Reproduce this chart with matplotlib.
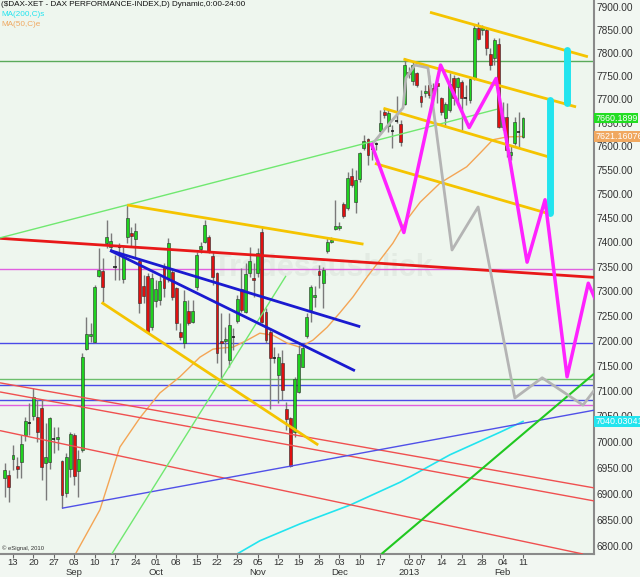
import matplotlib
matplotlib.use("Agg")
import matplotlib.pyplot as plt
from matplotlib.ticker import FixedLocator, NullLocator, FuncFormatter

plt.rcParams['font.family'] = ['Liberation Sans', 'DejaVu Sans']

# bar index 0 = 13 Aug 2012 (trading days)
bar_idx = list(range(-2, 126))
opens = [6930, 6936, 6967, 6953, 6961, 7014, 7038, 7051, 7049, 7066,
         6959, 6961, 7004, 7006, 6963, 6901, 6947, 7014, 6944, 6984,
         7183, 7209, 7197, 7331, 7341, 7398, 7390, 7350, 7388, 7325,
         7411, 7419, 7407, 7361, 7310, 7331, 7227, 7280, 7282, 7349,
         7327, 7339, 7306, 7217, 7195, 7260, 7238, 7308, 7386, 7400,
         7411, 7372, 7337, 7199, 7199, 7161, 7205, 7240, 7304, 7258,
         7337, 7327, 7337, 7421, 7258, 7217, 7167, 7132, 7155, 7064,
         7047, 7019, 7098, 7148, 7209, 7262, 7288, 7341, 7317, 7382,
         7400, 7427, 7429, 7479, 7471, 7538, 7483, 7531, 7597, 7616,
         7597, 7603, 7633, 7673, 7643, 7635, 7652, 7648, 7690, 7759,
         7740, 7757, 7707, 7714, 7731, 7725, 7735, 7703, 7660, 7677,
         7746, 7727, 7738, 7703, 7699, 7746, 7855, 7850, 7850, 7798,
         7789, 7820, 7641, 7662, 7582, 7607, 7631, 7620]
highs = [6959, 6946, 6994, 6971, 7014, 7049, 7076, 7106, 7082, 7084,
         7037, 7049, 7029, 7029, 6965, 6978, 7019, 7017, 6984, 7175,
         7248, 7235, 7312, 7388, 7368, 7446, 7419, 7374, 7398, 7390,
         7477, 7431, 7440, 7368, 7333, 7337, 7337, 7323, 7331, 7357,
         7409, 7343, 7308, 7236, 7302, 7282, 7282, 7380, 7400, 7446,
         7415, 7380, 7339, 7256, 7227, 7256, 7225, 7292, 7347, 7357,
         7390, 7357, 7388, 7434, 7266, 7225, 7187, 7175, 7181, 7078,
         7049, 7128, 7191, 7195, 7256, 7312, 7310, 7353, 7349, 7411,
         7411, 7488, 7442, 7483, 7546, 7555, 7550, 7588, 7624, 7618,
         7607, 7609, 7677, 7682, 7677, 7645, 7707, 7656, 7789, 7770,
         7781, 7759, 7720, 7731, 7753, 7735, 7748, 7705, 7695, 7757,
         7753, 7748, 7742, 7731, 7748, 7861, 7868, 7861, 7857, 7811,
         7833, 7833, 7695, 7692, 7603, 7662, 7673, 7662]
lows = [6893, 6884, 6946, 6930, 6930, 7002, 7014, 7043, 7000, 6926,
        6888, 6947, 6978, 6984, 6872, 6893, 6932, 6917, 6893, 6980,
        7181, 7197, 7195, 7329, 7278, 7388, 7384, 7323, 7323, 7317,
        7398, 7390, 7370, 7256, 7276, 7215, 7221, 7268, 7272, 7288,
        7319, 7282, 7221, 7201, 7185, 7232, 7236, 7302, 7378, 7398,
        7378, 7312, 7155, 7122, 7175, 7148, 7181, 7236, 7258, 7256,
        7329, 7288, 7329, 7236, 7195, 7064, 7155, 7076, 7082, 7023,
        6951, 7010, 7096, 7148, 7205, 7238, 7268, 7306, 7266, 7378,
        7398, 7425, 7425, 7450, 7467, 7515, 7460, 7525, 7592, 7561,
        7571, 7592, 7628, 7660, 7631, 7597, 7650, 7601, 7688, 7746,
        7731, 7727, 7684, 7705, 7703, 7688, 7692, 7667, 7641, 7673,
        7688, 7695, 7635, 7688, 7692, 7742, 7828, 7839, 7796, 7763,
        7774, 7639, 7635, 7578, 7571, 7603, 7597, 7618]
closes = [6946, 6913, 6975, 6947, 6996, 7041, 7036, 7088, 7019, 6951,
          6971, 7047, 7005, 7010, 6897, 6971, 7015, 6934, 6967, 7167,
          7213, 7213, 7308, 7343, 7308, 7411, 7402, 7349, 7390, 7370,
          7450, 7413, 7423, 7276, 7290, 7217, 7327, 7304, 7321, 7306,
          7398, 7288, 7236, 7207, 7280, 7236, 7260, 7374, 7392, 7436,
          7380, 7329, 7175, 7195, 7203, 7231, 7207, 7284, 7262, 7335,
          7361, 7323, 7378, 7238, 7201, 7165, 7165, 7167, 7102, 7045,
          6953, 7124, 7173, 7185, 7248, 7308, 7292, 7333, 7343, 7400,
          7404, 7434, 7433, 7454, 7534, 7519, 7529, 7586, 7612, 7582,
          7595, 7605, 7650, 7667, 7671, 7633, 7654, 7609, 7774, 7755,
          7774, 7731, 7695, 7718, 7710, 7714, 7729, 7673, 7690, 7733,
          7703, 7746, 7703, 7704, 7744, 7855, 7831, 7855, 7811, 7774,
          7828, 7641, 7662, 7592, 7588, 7652, 7630, 7660]

# moving averages, read at sparse bar positions
ma50_idx = [15.3, 21.3, 26.2, 31.1, 36.0, 40.9, 45.8, 49.0, 50.7, 53.9, 57.4, 60.5,
            63.7, 67.2, 70.3, 73.5, 77.0, 80.1, 83.3, 86.8, 90.0, 93.1, 96.5, 99.8,
            104.7, 111.2, 114.5, 117.6, 121.0, 125.0]
ma50_val = [6785, 6869, 6990, 7047, 7096, 7128, 7167, 7183, 7185, 7187, 7201, 7215,
            7211, 7195, 7187, 7201, 7227, 7256, 7288, 7329, 7364, 7398, 7446, 7483,
            7523, 7557, 7586, 7614, 7620, 7621]
ma200_idx = [54.9, 60.5, 70.3, 82.6, 94.9, 107.1, 119.4, 125.0]
ma200_val = [6785, 6810, 6842, 6878, 6922, 6975, 7019, 7040]

# horizontal support / resistance levels
h_levels = [7783, 7345, 7195, 7123, 7111, 7082, 7072]
h_colors = ['#5aaa5a', '#e060e0', '#4a4ae8', '#6cbf6c', '#4a4ae8', '#4a4ae8', '#e060e0']

# trend lines: (x0, p0, x1, p1, colour, width)
trend_lines = [
    (-3.19, 7408, 142.4, 7328, '#e81818', 2.0),
    (-3.19, 7116, 142.4, 6911, '#f05050', 1.0),
    (-3.19, 7098, 142.4, 6886, '#f05050', 1.0),
    (-3.19, 7022, 139.7, 6785, '#f05050', 1.0),
    (12.0, 6872, 142.4, 7062, '#5050e8', 1.0),
    (-3.19, 7409, 118.6, 7679, '#70e870', 1.0),
    (24.2, 6785, 66.9, 7331, '#70e870', 1.0),
    (90.3, 6785, 142.4, 7134, '#20c820', 1.5),
    (28.0, 7477, 85.9, 7396, '#f5c400', 2.0),
    (21.7, 7277, 74.8, 6994, '#f5c400', 2.0),
    (102.2, 7889, 140.9, 7792, '#f5c400', 2.0),
    (95.7, 7787, 138.0, 7684, '#f5c400', 2.0),
    (90.8, 7681, 132.4, 7575, '#f5c400', 2.0),
    (88.7, 7564, 130.9, 7460, '#f5c400', 2.0),
    (23.8, 7383, 85.1, 7228, '#1a1ad0', 2.0),
    (23.8, 7383, 83.8, 7140, '#1a1ad0', 2.0),
]

# projected paths
mag_idx = [87.9, 95.8, 104.8, 111.8, 118.4, 126.0, 130.4, 135.8, 141.0, 142.9]
mag_val = [7604, 7420, 7774, 7640, 7745, 7359, 7488, 7128, 7316, 7280]
grey_idx = [87.9, 91.9, 95.6, 96.3, 98.5, 101.7, 107.6, 114.0, 123.0, 129.7, 139.7, 142.9]
grey_val = [7603, 7645, 7682, 7746, 7774, 7768, 7384, 7473, 7086, 7126, 7072, 7106]

# cyan target bars: (x, low, high)
targets = [(131.6, 7461, 7699), (135.7, 7692, 7807)]

tick_idx = [0, 5, 10, 15, 20, 25, 30, 35, 40, 45, 50, 55, 60, 65, 70, 75, 80, 85, 90,
            97, 100, 105, 110, 115, 120, 125]
tick_lbl = ['13', '20', '27', '03', '10', '17', '24', '01', '08', '15', '22', '29', '05',
            '12', '19', '26', '03', '10', '17', '02', '07', '14', '21', '28', '04', '11']
month_idx = [15, 35, 60, 80, 97, 120]
month_lbl = ['Sep', 'Oct', 'Nov', 'Dec', '2013', 'Feb']

BG = '#eef6ee'
fig = plt.figure(figsize=(6.4, 5.77), dpi=100, facecolor='#f2f7f2')
ax = fig.add_axes([0, 23 / 577, 594 / 640, 554 / 577])
ax.set_facecolor(BG)
ax.set_yscale('log')
ax.set_xlim(-3.19, 142.4)
ax.set_ylim(6785, 7916)

# watermark
ax.text(76, 7347, 'Tradesausblick', fontsize=22, fontweight='bold', color='#e3ebe3',
        ha='center', va='center', zorder=1)

for lvl, c in zip(h_levels, h_colors):
    ax.axhline(lvl, color=c, lw=1, zorder=2)

ax.plot(ma200_idx, ma200_val, color='#22e4ee', lw=1.2, zorder=2.5)
ax.plot(ma50_idx, ma50_val, color='#f4a555', lw=1.0, zorder=2.5)

# candles
for x, o, h, l, c in zip(bar_idx, opens, highs, lows, closes):
    ax.vlines(x, l, h, color='#7a7a7a', lw=1, zorder=3)
    if abs(c - o) < 3:
        ax.hlines(c, x - 0.38, x + 0.38, color='#111111', lw=1.1, zorder=4)
        continue
    col = '#1fd21f' if c > o else '#e01010'
    ax.bar(x, abs(c - o), bottom=min(o, c), width=0.72, color=col,
           edgecolor='#2a2a2a', linewidth=0.4, zorder=4)

for x0, p0, x1, p1, c, w in trend_lines:
    ax.plot([x0, x1], [p0, p1], color=c, lw=w, zorder=5, solid_capstyle='butt')

ax.plot(grey_idx, grey_val, color='#b4b4b4', lw=2, zorder=5)
ax.plot(mag_idx, mag_val, color='#ff22ff', lw=2.5, zorder=6)
for x, lo, hi in targets:
    ax.plot([x, x], [lo, hi], color='#22e4ee', lw=5, solid_capstyle='round', zorder=5.5)

# axes styling
for s in ('top', 'left'):
    ax.spines[s].set_visible(False)
for s in ('right', 'bottom'):
    ax.spines[s].set_color('#8a8a8a')
    ax.spines[s].set_linewidth(1.5)

ax.yaxis.tick_right()
ax.yaxis.set_major_locator(FixedLocator(list(range(6800, 7901, 50))))
ax.yaxis.set_minor_locator(NullLocator())
ax.yaxis.set_major_formatter(FuncFormatter(lambda v, p: f"{v:.2f}"))
ax.tick_params(axis='y', length=0, pad=2, labelsize=7.3, labelcolor='#333333')

ax.set_xticks(tick_idx)
ax.set_xticklabels(tick_lbl)
ax.tick_params(axis='x', length=3, color='#666666', labelsize=6.8, labelcolor='#333333', pad=0)
for x, m in zip(month_idx, month_lbl):
    ax.text(x, -0.034, m, transform=ax.get_xaxis_transform(), ha='center', va='center',
            fontsize=6.8, color='#333333')

# value boxes on the price scale
for val, txt, c in [(7660.19, '7660.1899', '#22dd22'), (7621.16, '7621.16076', '#f0a860'),
                    (7040.03, '7040.03041', '#22e4ee')]:
    ax.text(1.002, val, txt, transform=ax.get_yaxis_transform(), ha='left', va='center',
            fontsize=6.4, color='white', clip_on=False, zorder=10,
            bbox=dict(boxstyle='square,pad=0.1', fc=c, ec='none'))

fig.text(1 / 640, 1 - 5 / 577, '($DAX-XET - DAX PERFORMANCE-INDEX,D) Dynamic,0:00-24:00',
         fontsize=5.9, color='#111111', va='center', ha='left')
fig.text(1 / 640, 1 - 15 / 577, 'MA(200,C)s', fontsize=5.9, color='#22e4ee', va='center')
fig.text(1 / 640, 1 - 25 / 577, 'MA(50,C)e', fontsize=5.9, color='#f0a860', va='center')
fig.text(2 / 640, 1 - 548 / 577, '\u00a9 eSignal, 2010', fontsize=4.2, color='#333333', va='center')

fig.savefig('out.png', dpi=100, facecolor=fig.get_facecolor())
